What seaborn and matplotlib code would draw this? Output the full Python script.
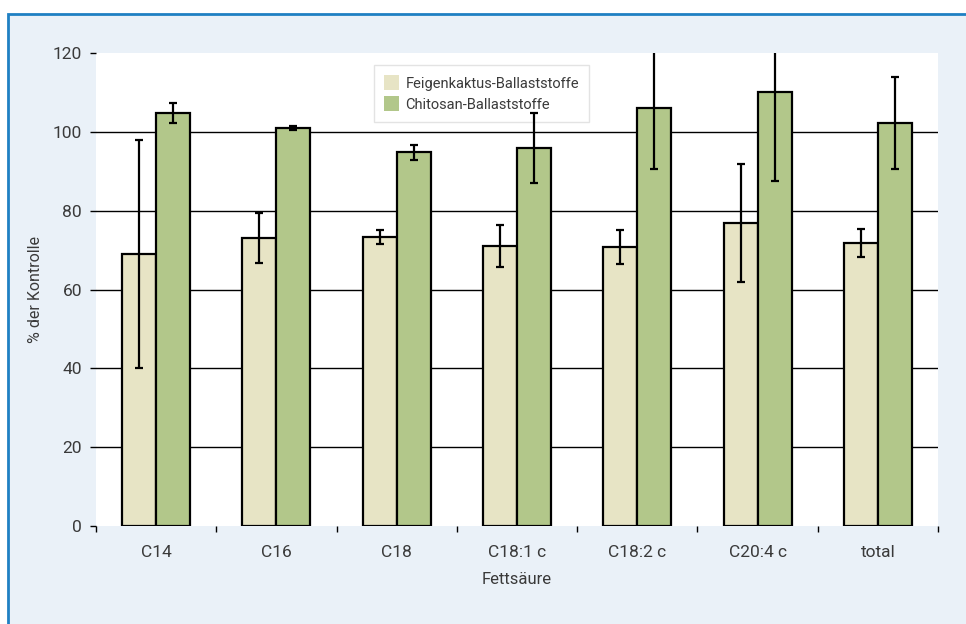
import numpy as np
import pandas as pd
import matplotlib
matplotlib.use("Agg")
import matplotlib.pyplot as plt
from matplotlib.patches import Rectangle
import seaborn as sns

categories = ["C14", "C16", "C18", "C18:1 c", "C18:2 c", "C20:4 c", "total"]
series_names = ["Feigenkaktus-Ballaststoffe", "Chitosan-Ballaststoffe"]
feigen_vals = [69.0, 73.0, 73.3, 71.0, 70.8, 76.9, 71.8]
feigen_err = [28.9, 6.4, 1.8, 5.4, 4.4, 15.0, 3.6]
chitosan_vals = [104.8, 101.0, 94.8, 95.9, 106.1, 110.2, 102.3]
chitosan_err = [2.5, 0.5, 1.95, 8.9, 15.5, 22.7, 11.7]
yticks = [0, 20, 40, 60, 80, 100, 120]

df = pd.DataFrame({
    "cat": categories * 2,
    "series": [series_names[0]] * len(categories) + [series_names[1]] * len(categories),
    "val": feigen_vals + chitosan_vals,
    "err": feigen_err + chitosan_err,
})

sns.set_theme(style="white")
plt.rcParams["font.family"] = ["Roboto", "DejaVu Sans"]
text_col = "#3a3a3a"

W, H = 966, 624
fig = plt.figure(figsize=(W / 100, H / 100), dpi=100, facecolor="white")
# light blue panel with blue left/top border
fig.patches.append(Rectangle((7.5 / W, -0.1), 1.2, 1.1 - 14.5 / H, transform=fig.transFigure,
                             facecolor="#EAF1F8", edgecolor="#1f80c3", linewidth=2.0, zorder=-10))

ax = fig.add_axes([96 / W, (H - 526) / H, 842 / W, (526 - 53) / H])
ax.set_zorder(1)
ax.set_facecolor("white")

palette = {series_names[0]: "#E7E4C5", series_names[1]: "#B2C78A"}
sns.barplot(data=df, x="cat", y="val", hue="series", order=categories, hue_order=series_names,
            palette=palette, width=0.566, edgecolor="black", linewidth=1.6, saturation=1,
            errorbar=None, ax=ax, zorder=3)

# error bars at the bar centres
bars = [p for p in ax.patches if isinstance(p, Rectangle) and p.get_height() > 0]
for p in bars:
    xc = p.get_x() + p.get_width() / 2
    h = p.get_height()
    i = int(round(xc))
    col = series_names[0] if xc < i else series_names[1]
    e = df[(df.cat == categories[i]) & (df.series == col)]["err"].iloc[0]
    ax.errorbar(xc, h, yerr=e, fmt="none", ecolor="black", elinewidth=1.6,
                capsize=3.2, capthick=1.6, zorder=7)

ax.set_ylim(0, 120)
ax.set_xlim(-0.5, len(categories) - 0.5)
ax.set_yticks(yticks)
ax.set_yticklabels([str(v) for v in yticks])
for v in yticks[1:-1]:
    ax.axhline(v, color="black", linewidth=1.0, zorder=1)

for s in ax.spines.values():
    s.set_visible(False)

ax.tick_params(axis="y", left=True, length=4, width=1.0, color="black", labelsize=12.5,
               labelcolor=text_col, pad=6)
ax.tick_params(axis="x", which="major", bottom=False, labelsize=12.5, labelcolor=text_col, pad=8)
ax.set_xticks(np.arange(-0.5, len(categories)), minor=True)
ax.tick_params(axis="x", which="minor", bottom=True, length=4, width=1.0, color="black")

ax.set_xlabel("Fettsäure", fontsize=12, color=text_col, labelpad=8)
ax.set_ylabel("% der Kontrolle", fontsize=11.5, color=text_col, labelpad=7)

leg = ax.legend(loc="upper left", bbox_to_anchor=((374 - 96) / 842, (526 - 65) / 473),
                frameon=True, fontsize=10.5, fancybox=False, handlelength=1.0, handleheight=1.2,
                handletextpad=0.45, borderpad=0.7, labelspacing=0.4, borderaxespad=0)
leg.get_frame().set_edgecolor("#dddddd")
leg.get_frame().set_linewidth(1.0)
for t in leg.get_texts():
    t.set_color(text_col)
for h in leg.legend_handles:
    h.set_edgecolor("none")
leg.set_zorder(6)

fig.savefig("out.png", dpi=100, facecolor=fig.get_facecolor())
